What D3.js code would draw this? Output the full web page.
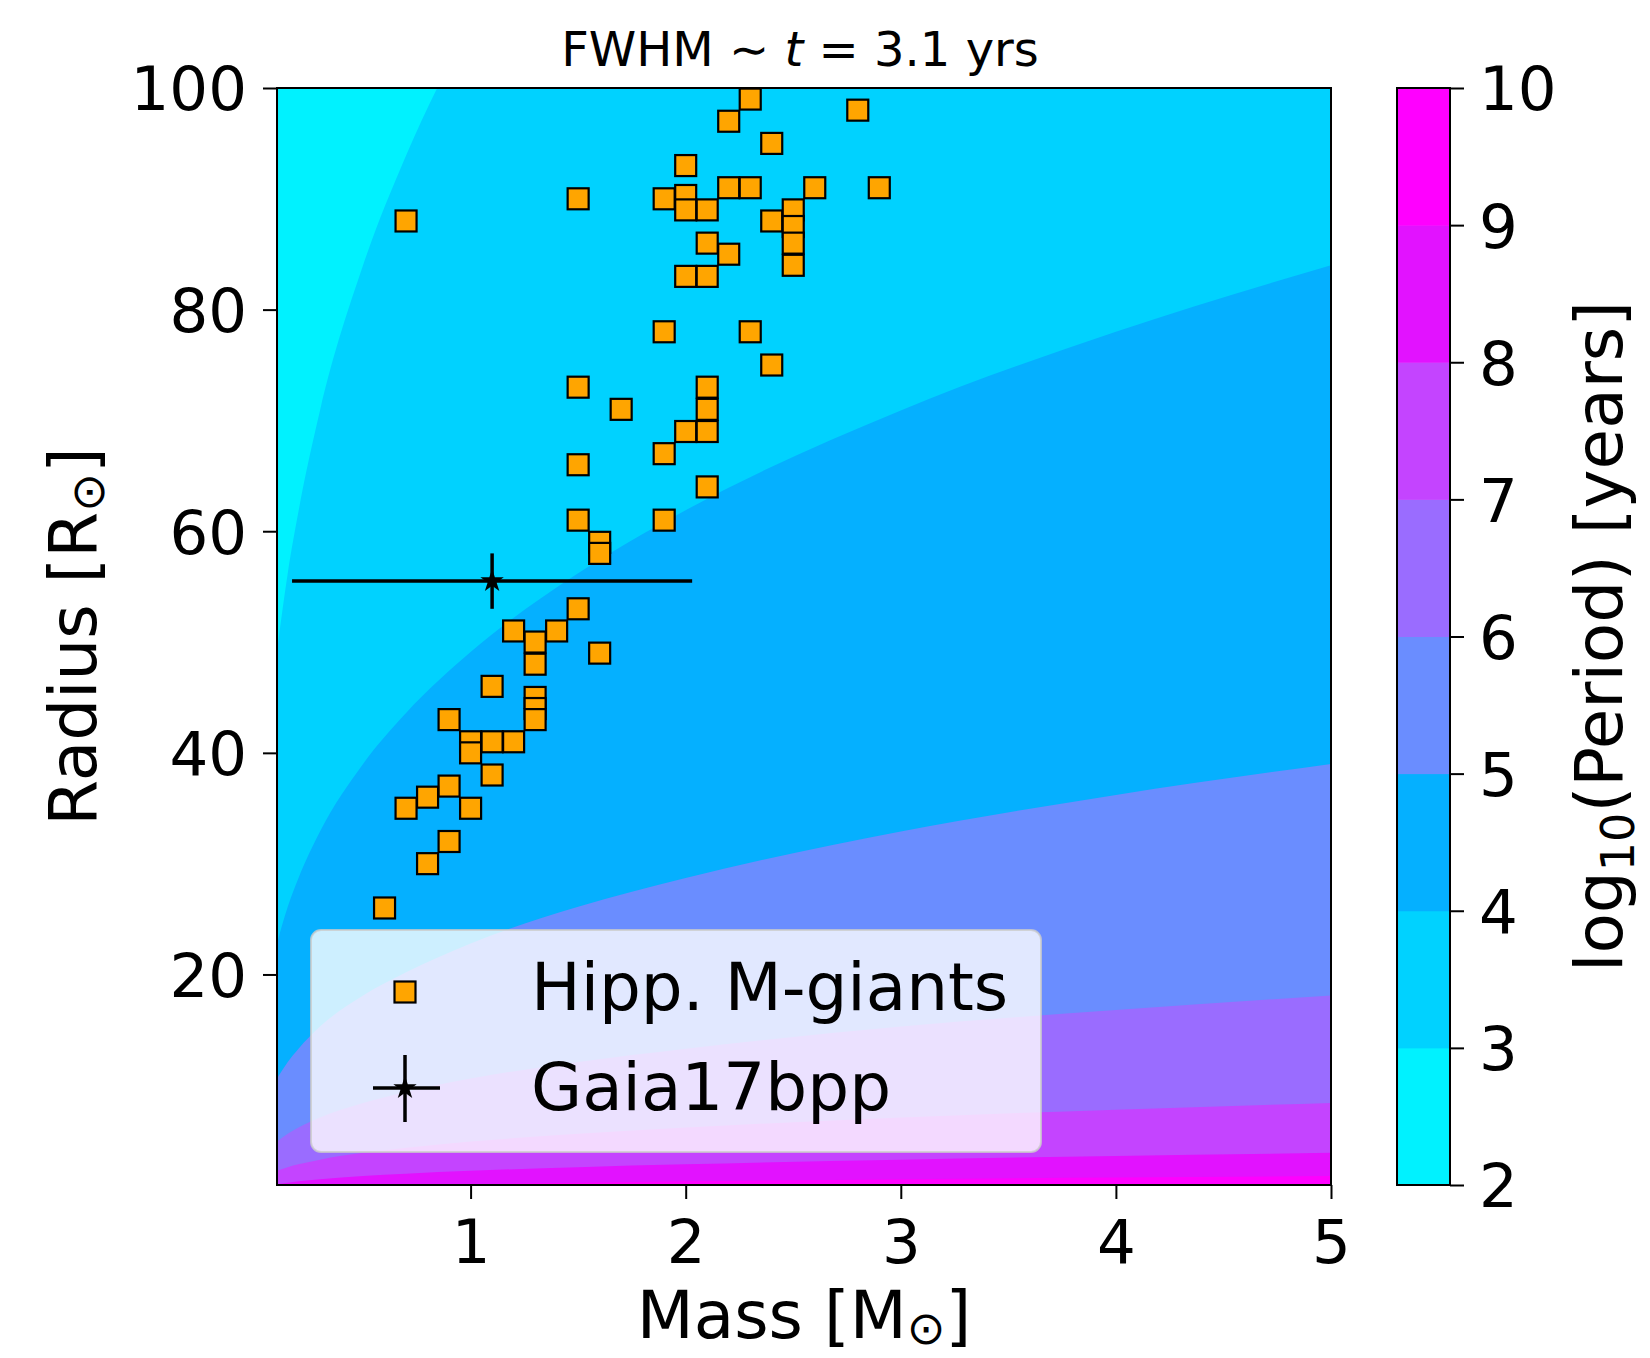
<!DOCTYPE html>
<html>
<head>
<meta charset="utf-8">
<script src="https://cdn.jsdelivr.net/npm/d3@7"></script>
<style>
  body { margin: 0; background: #fff; }
  text { font-family: "DejaVu Sans", sans-serif; }
</style>
</head>
<body>
<div id="chart"></div>
<script>

/* Hipparcos M-giants: mass [Msun] and radius [Rsun] */
var giantMass = [2.3, 2.8, 2.2, 2.4, 2.0,
    1.5, 1.9, 2.0, 2.0, 2.1, 2.2, 2.3, 2.6, 2.9,
    2.4, 2.5, 2.5, 2.5, 2.5, 2.1, 2.2, 2.0, 2.1,
    0.7,
    1.9, 2.3, 2.4,
    1.5, 2.1, 1.7, 2.1, 2.0, 2.1, 1.9, 1.5, 2.1,
    1.5, 1.9, 1.6, 1.6,
    1.5, 1.2, 1.4, 1.3, 1.6, 1.3,
    1.1, 1.3, 1.3, 1.3, 0.9, 1.0, 1.0, 1.1, 1.2,
    1.1, 0.9, 0.8, 0.7, 1.0, 0.9, 0.8, 0.6];
var giantRadius = [99, 98, 97, 95, 93,
    90, 90, 90.3, 89, 89, 91, 91, 91, 91,
    88, 89, 87.5, 86, 84, 86, 85, 83, 83,
    88,
    78, 78, 75,
    73, 73, 71, 71, 69, 69, 67, 66, 64,
    61, 61, 59, 58,
    53, 51, 51, 50, 49, 48,
    46, 45, 44, 43, 43, 41, 40, 41, 41,
    38, 37, 36, 35, 35, 32, 30, 26];

/* Gaia17bpp with error bars */
var gaiaMass = [1.1], gaiaMassErr = [0.93];
var gaiaRadius = [55.5], gaiaRadiusErr = [2.5];

/* log10(Period) contour levels and their colours */
var levels = [2, 3, 4, 5, 6, 7, 8, 9, 10];
var bandColors = ["#00f2ff", "#00d2ff", "#05b0ff", "#6a8dff", "#9a6cff", "#c444ff", "#e212ff", "#ff00ff"];

/* radius of each contour boundary, read along these masses */
var edgeMass = [0.1, 0.15, 0.2, 0.3, 0.5, 0.7, 1, 1.5, 2, 3, 4, 5];
var edge3 = [49.1, 56.2, 61.8, 70.9, 84.0, 93.9, 105.8, 121, 133, 153, 168, 181];
var edge4 = [22.8, 26.1, 28.7, 32.9, 39.0, 43.6, 49.1, 56.2, 61.9, 70.9, 78.0, 84.0];
var edge5 = [10.6, 12.1, 13.3, 15.3, 18.1, 20.2, 22.8, 26.1, 28.7, 32.9, 36.2, 39.0];
var edge6 = [4.92, 5.62, 6.18, 7.09, 8.40, 9.39, 10.6, 12.1, 13.3, 15.3, 16.8, 18.1];
var edge7 = [2.28, 2.61, 2.87, 3.29, 3.90, 4.36, 4.92, 5.62, 6.18, 7.09, 7.80, 8.40];
var edge8 = [1.06, 1.21, 1.33, 1.53, 1.81, 2.02, 2.28, 2.61, 2.87, 3.29, 3.62, 3.90];
var edge9 = [0.49, 0.56, 0.62, 0.71, 0.84, 0.94, 1.06, 1.21, 1.33, 1.53, 1.68, 1.81];

var massTicks = [1, 2, 3, 4, 5];
var radiusTicks = [20, 40, 60, 80, 100];
var periodTicks = [2, 3, 4, 5, 6, 7, 8, 9, 10];

/* Layout */
var width = 1650, height = 1358;
var plot = { left: 277, right: 1331, top: 88, bottom: 1185 };
var bar = { left: 1397, right: 1450 };
var tickFont = 61, labelFont = 66;

var svg = d3.select("#chart").append("svg")
    .attr("width", width)
    .attr("height", height);

var x = d3.scaleLinear().domain([0.1, 5]).range([plot.left, plot.right]);
var y = d3.scaleLinear().domain([1, 100]).range([plot.bottom, plot.top]);

svg.append("defs").append("clipPath")
    .attr("id", "plotclip")
    .append("rect")
    .attr("x", plot.left)
    .attr("y", plot.top)
    .attr("width", plot.right - plot.left)
    .attr("height", plot.bottom - plot.top);

/* Filled contour bands */
var bands = svg.append("g").attr("clip-path", "url(#plotclip)");

bands.append("rect")
    .attr("x", plot.left)
    .attr("y", plot.top)
    .attr("width", plot.right - plot.left)
    .attr("height", plot.bottom - plot.top)
    .attr("fill", bandColors[0]);

var edges = [edge3, edge4, edge5, edge6, edge7, edge8, edge9];

var area = d3.area()
    .x(function(d) { return x(d[0]); })
    .y0(y(0))
    .y1(function(d) { return y(d[1]); })
    .curve(d3.curveMonotoneX);

edges.forEach(function(edge, i) {
    var pts = edgeMass.map(function(m, j) { return [m, edge[j]]; });
    bands.append("path")
        .attr("d", area(pts))
        .attr("fill", bandColors[i + 1]);
});

/* Hipparcos squares */
var sq = 21;
svg.append("g")
    .attr("clip-path", "url(#plotclip)")
    .selectAll("rect")
    .data(giantMass.map(function(m, i) { return [m, giantRadius[i]]; }))
    .enter().append("rect")
    .attr("x", function(d) { return x(d[0]) - sq / 2; })
    .attr("y", function(d) { return y(d[1]) - sq / 2; })
    .attr("width", sq)
    .attr("height", sq)
    .attr("fill", "#ffa500")
    .attr("stroke", "#000")
    .attr("stroke-width", 2.2);

/* Gaia17bpp */
var gaia = svg.append("g");
gaiaMass.forEach(function(m, i) {
    var r = gaiaRadius[i];
    gaia.append("line")
        .attr("x1", x(m - gaiaMassErr[i])).attr("x2", x(m + gaiaMassErr[i]))
        .attr("y1", y(r)).attr("y2", y(r))
        .attr("stroke", "#000").attr("stroke-width", 3.5);
    gaia.append("line")
        .attr("x1", x(m)).attr("x2", x(m))
        .attr("y1", y(r - gaiaRadiusErr[i])).attr("y2", y(r + gaiaRadiusErr[i]))
        .attr("stroke", "#000").attr("stroke-width", 3.5);
    gaia.append("path")
        .attr("d", d3.symbol().type(d3.symbolStar).size(170)())
        .attr("transform", "translate(" + x(m) + "," + y(r) + ")")
        .attr("fill", "#000");
});

/* Axes */
var xAxis = svg.append("g")
    .attr("transform", "translate(0," + plot.bottom + ")")
    .call(d3.axisBottom(x).tickValues(massTicks).tickFormat(d3.format("d"))
        .tickSize(14).tickSizeOuter(0).tickPadding(21));

var yAxis = svg.append("g")
    .attr("transform", "translate(" + plot.left + ",0)")
    .call(d3.axisLeft(y).tickValues(radiusTicks).tickFormat(d3.format("d"))
        .tickSize(14).tickSizeOuter(0).tickPadding(16));

[xAxis, yAxis].forEach(function(ax) {
    ax.select(".domain").remove();
    ax.selectAll(".tick line").attr("stroke", "#000").attr("stroke-width", 2);
    ax.selectAll(".tick text")
        .attr("font-size", tickFont)
        .attr("font-family", "DejaVu Sans")
        .attr("fill", "#000");
});
yAxis.selectAll(".tick text").attr("dy", "0.36em");

/* Plot frame */
svg.append("rect")
    .attr("x", plot.left)
    .attr("y", plot.top)
    .attr("width", plot.right - plot.left)
    .attr("height", plot.bottom - plot.top)
    .attr("fill", "none")
    .attr("stroke", "#000")
    .attr("stroke-width", 2);

/* Legend */
var legend = svg.append("g");
legend.append("rect")
    .attr("x", 311).attr("y", 930)
    .attr("width", 730).attr("height", 222)
    .attr("rx", 10).attr("ry", 10)
    .attr("fill", "#fff").attr("fill-opacity", 0.8)
    .attr("stroke", "#ccc").attr("stroke-opacity", 0.8).attr("stroke-width", 2);

legend.append("rect")
    .attr("x", 405 - sq / 2).attr("y", 992 - sq / 2)
    .attr("width", sq).attr("height", sq)
    .attr("fill", "#ffa500").attr("stroke", "#000").attr("stroke-width", 2.2);

legend.append("line")
    .attr("x1", 373).attr("x2", 440).attr("y1", 1088).attr("y2", 1088)
    .attr("stroke", "#000").attr("stroke-width", 3.5);
legend.append("line")
    .attr("x1", 405).attr("x2", 405).attr("y1", 1055).attr("y2", 1122)
    .attr("stroke", "#000").attr("stroke-width", 3.5);
legend.append("path")
    .attr("d", d3.symbol().type(d3.symbolStar).size(170)())
    .attr("transform", "translate(405,1088)")
    .attr("fill", "#000");

legend.selectAll("text.entry")
    .data([["Hipp. M-giants", 1010], ["Gaia17bpp", 1110]])
    .enter().append("text")
    .attr("class", "entry")
    .attr("x", 531)
    .attr("y", function(d) { return d[1]; })
    .attr("font-size", labelFont)
    .text(function(d) { return d[0]; });

/* Title */
var title = svg.append("text")
    .attr("x", 800)
    .attr("y", 66)
    .attr("text-anchor", "middle")
    .attr("font-size", 48)
    .attr("xml:space", "preserve");
title.append("tspan").text("FWHM \u223C ");
title.append("tspan").attr("font-style", "italic").text("t");
title.append("tspan").text(" = 3.1 yrs");

/* Axis labels */
var xLabel = svg.append("text")
    .attr("x", (plot.left + plot.right) / 2)
    .attr("y", 1338)
    .attr("text-anchor", "middle")
    .attr("font-size", labelFont);
xLabel.append("tspan").text("Mass [M");
xLabel.append("tspan").attr("font-size", labelFont * 0.7).attr("dy", "0.12em").text("\u2299");
xLabel.append("tspan").attr("dy", "-0.08em").text("]");

var yLabel = svg.append("text")
    .attr("transform", "translate(96," + (plot.top + plot.bottom) / 2 + ") rotate(-90)")
    .attr("text-anchor", "middle")
    .attr("font-size", labelFont);
yLabel.append("tspan").text("Radius [R");
yLabel.append("tspan").attr("font-size", labelFont * 0.7).attr("dy", "0.18em").text("\u2299");
yLabel.append("tspan").attr("dy", "-0.12em").text("]");

/* Colorbar */
var c = d3.scaleLinear().domain([2, 10]).range([plot.bottom, plot.top]);

svg.append("g")
    .selectAll("rect")
    .data(bandColors)
    .enter().append("rect")
    .attr("x", bar.left)
    .attr("y", function(d, i) { return c(levels[i + 1]); })
    .attr("width", bar.right - bar.left)
    .attr("height", function(d, i) { return c(levels[i]) - c(levels[i + 1]) + 0.5; })
    .attr("fill", function(d) { return d; });

svg.append("rect")
    .attr("x", bar.left)
    .attr("y", plot.top)
    .attr("width", bar.right - bar.left)
    .attr("height", plot.bottom - plot.top)
    .attr("fill", "none")
    .attr("stroke", "#000")
    .attr("stroke-width", 2);

var cAxis = svg.append("g")
    .attr("transform", "translate(" + bar.right + ",0)")
    .call(d3.axisRight(c).tickValues(periodTicks).tickFormat(d3.format("d"))
        .tickSize(14).tickSizeOuter(0).tickPadding(15));
cAxis.select(".domain").remove();
cAxis.selectAll(".tick line").attr("stroke", "#000").attr("stroke-width", 2);
cAxis.selectAll(".tick text")
    .attr("font-size", tickFont)
    .attr("font-family", "DejaVu Sans")
    .attr("fill", "#000")
    .attr("dy", "0.36em");

var cLabel = svg.append("text")
    .attr("transform", "translate(1622," + (plot.top + plot.bottom) / 2 + ") rotate(-90)")
    .attr("text-anchor", "middle")
    .attr("font-size", labelFont);
cLabel.append("tspan").text("log");
cLabel.append("tspan").attr("font-size", labelFont * 0.7).attr("dy", "0.25em").text("10");
cLabel.append("tspan").attr("dy", "-0.18em").text("(Period) [years]");

</script>
</body>
</html>
